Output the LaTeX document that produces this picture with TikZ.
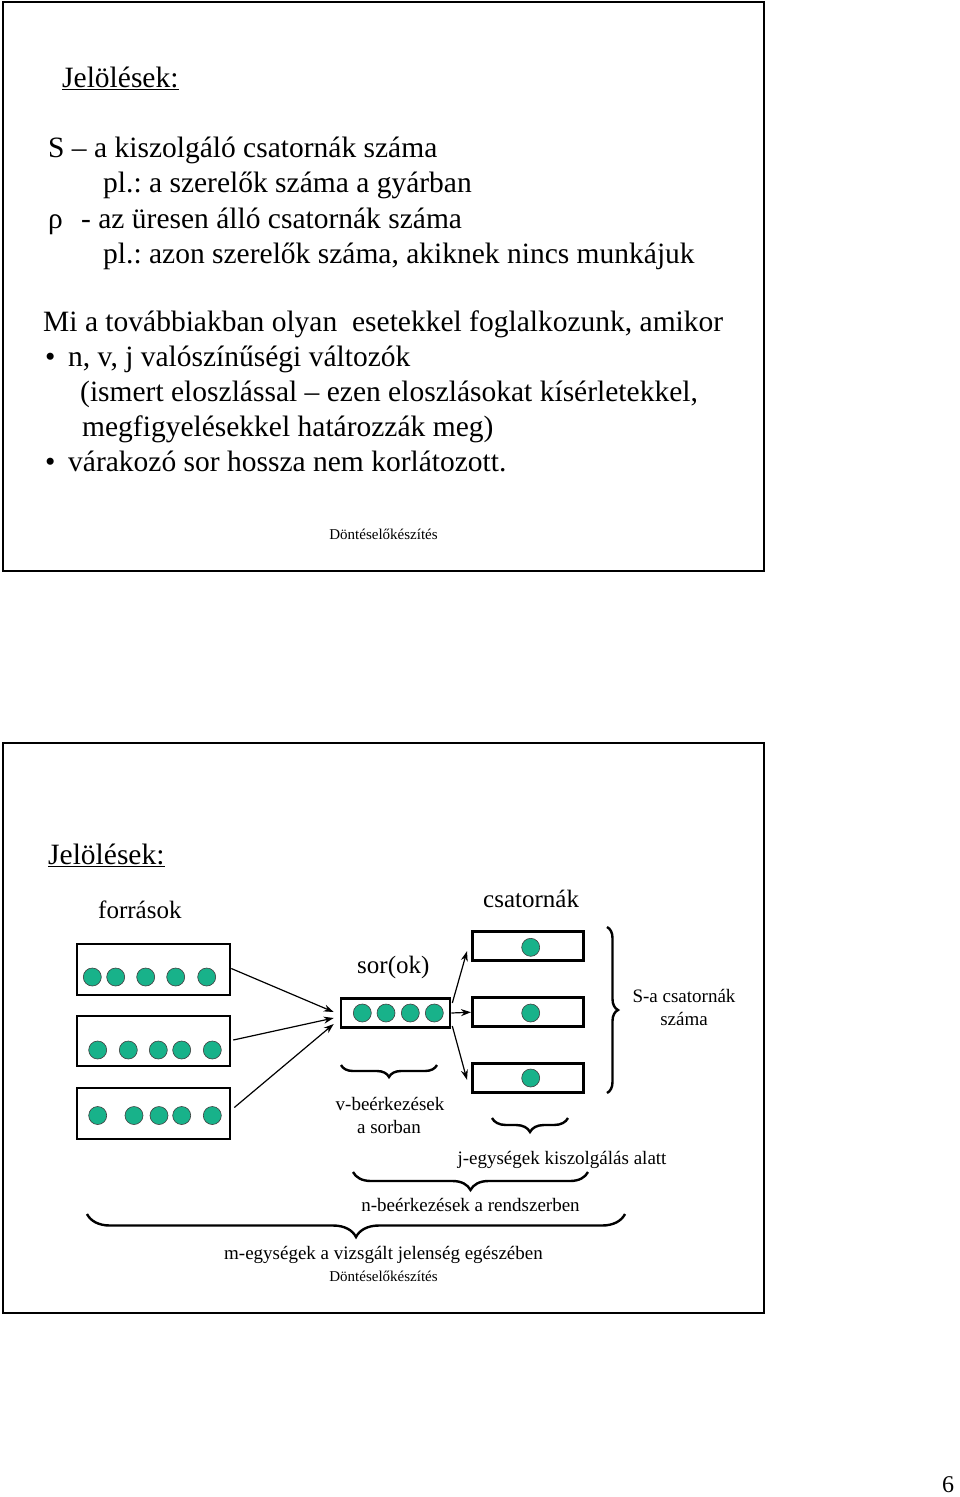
\documentclass[tikz,border=0pt]{standalone}
\usepackage{fontspec}
\setmainfont{Liberation Serif}
\usetikzlibrary{arrows.meta,decorations.pathreplacing,calc}
\definecolor{ballc}{RGB}{24,178,138}
\frenchspacing
\begin{document}
\begin{tikzpicture}[x=1pt,y=-1pt,
  big/.style={font=\fontsize{29.5}{34}\selectfont, inner sep=0pt, anchor=base west},
  mid/.style={font=\fontsize{25}{30}\selectfont, inner sep=0pt, anchor=base west},
  small/.style={font=\fontsize{19}{23}\selectfont, inner sep=0pt, anchor=base},
  tiny/.style={font=\fontsize{15}{18}\selectfont, inner sep=0pt, anchor=base},
  slide/.style={draw, line width=2.5pt},
  box/.style={draw, line width=2.6pt, inner sep=0pt, minimum width=#1},
  ball/.style={circle, draw=black!75, line width=0.6pt, fill=ballc, minimum size=18pt, inner sep=0pt},
  arr/.style={-{Stealth[length=10pt,width=7pt]}, line width=1.2pt},
  dbrace/.style={decorate, decoration={brace, amplitude=#1, mirror}, line width=2.4pt},
  rbrace/.style={decorate, decoration={brace, amplitude=#1}, line width=2.4pt},
]
\useasboundingbox (0,0) rectangle (960,1497);
\fill[white] (0,0) rectangle (960,1497);

% ---------- top slide ----------
\draw[slide] (3,2) rectangle (764,571);
\node[big] (j1) at (62,87) {\underline{Jelölések:}};
\node[big] (a1) at (48,157) {S -- a kiszolgáló csatornák száma};
\node[big] (a2) at (103,192) {pl.: a szerelők száma a gyárban};
\node[big] (a3) at (48,228) {\makebox[33pt][l]{ρ}- az üresen álló csatornák száma};
\node[big] (a4) at (103,263) {pl.: azon szerelők száma, akiknek nincs munkájuk};
\node[big] (b1) at (43,331) {Mi a továbbiakban olyan\ \ esetekkel foglalkozunk, amikor};
\node[big] (b2) at (45,366) {\makebox[23pt][l]{•}n, v, j valószínűségi változók};
\node[big] (b3) at (80,401) {(ismert eloszlással -- ezen eloszlásokat kísérletekkel,};
\node[big] (b4) at (82,436) {megfigyelésekkel határozzák meg)};
\node[big] (b5) at (45,471) {\makebox[23pt][l]{•}várakozó sor hossza nem korlátozott.};
\node[tiny] (f1) at (383.5,539) {Döntéselőkészítés};

% ---------- bottom slide ----------
\draw[slide] (3,743) rectangle (764,1313);
\node[big] (j2) at (48,864) {\underline{Jelölések:}};
\node[mid] (lf) at (98,918) {források};
\node[mid] (lc) at (483,907) {csatornák};
\node[mid] (ls) at (357,973) {sor(ok)};

% source boxes
\node[box=153pt, minimum height=51pt] (s1) at (153.5,969.5) {};
\node[box=153pt, minimum height=50pt] (s2) at (153.5,1041) {};
\node[box=153pt, minimum height=51pt] (s3) at (153.5,1113.5) {};
\foreach \x [count=\i] in {92.3,115.7,145.7,175.7,206.7}
  \node[ball] (p1\i) at (\x,977) {};
\foreach \x [count=\i] in {97.7,128.3,158.3,181.7,212.3}
  \node[ball] (p2\i) at (\x,1050) {};
\foreach \x [count=\i] in {97.7,134,159,181.7,212.3}
  \node[ball] (p3\i) at (\x,1115.5) {};

% queue
\node[box=109pt, minimum height=29.5pt] (q) at (395.5,1013) {};
\foreach \x [count=\i] in {362.3,386,410.3,434.3}
  \node[ball] (pq\i) at (\x,1013) {};

% channels
\node[box=111pt, minimum height=29pt] (cA) at (527.8,946.2) {};
\node[box=111pt, minimum height=29pt] (cB) at (527.8,1012.2) {};
\node[box=111pt, minimum height=29pt] (cC) at (527.8,1077.8) {};
\node[ball] (pA) at (530.7,947.3) {};
\node[ball] (pB) at (530.7,1013) {};
\node[ball] (pC) at (530.7,1078) {};

% arrows
\draw[arr] ($(s1.east)+(0,-1)$) -- ($(q.west)+(-6,-1)$);
\draw[arr] ($(s2.east)+(2,-1)$) -- ($(q.west)+(-6,5)$);
\draw[arr] ($(s3.east)+(3,-6)$) -- ($(q.west)+(-6,11)$);
\draw[arr] ($(q.east)+(1,-10)$) -- ($(cA.west)+(-4,5)$);
\draw[arr] (q.east) -- (cB.west);
\draw[arr] ($(q.east)+(1,13)$) -- ($(cC.west)+(-4,2)$);

% braces
\draw[rbrace=11pt] (607,927) -- (607,1093);
\draw[dbrace=12pt] (341,1065) -- (437,1065);
\draw[dbrace=14pt] (492,1118) -- (568,1118);
\draw[dbrace=18pt] (353,1172) -- (588,1172);
\draw[dbrace=23pt] (87,1214) -- (625,1214);

% labels
\node[small] (lsa) at (684,1002) {S-a csatornák};
\node[small] (lsb) at (684,1025) {száma};
\node[small] (lva) at (390,1110) {v-beérkezések};
\node[small] (lvb) at (389,1133) {a sorban};
\node[small] (lj) at (562,1164) {j-egységek kiszolgálás alatt};
\node[small] (ln) at (470.5,1211) {n-beérkezések a rendszerben};
\node[small] (lm) at (383.5,1259) {m-egységek a vizsgált jelenség egészében};
\node[tiny] (f2) at (383.5,1281) {Döntéselőkészítés};

\node[big, font=\fontsize{24}{28}\selectfont] (pg) at (942,1492) {6};
\end{tikzpicture}
\end{document}
